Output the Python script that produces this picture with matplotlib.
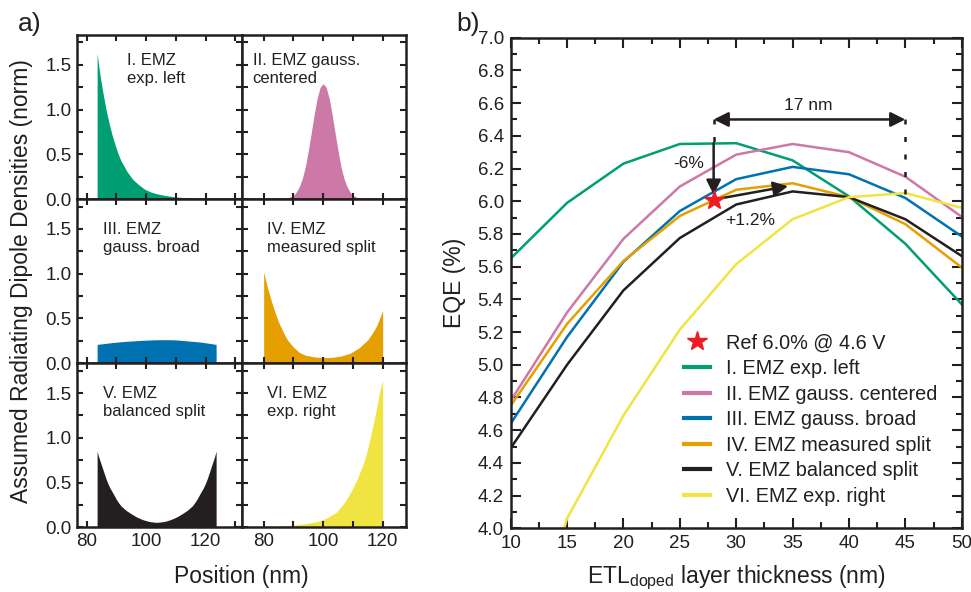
import matplotlib
matplotlib.use("Agg")
import matplotlib.pyplot as plt
from matplotlib.ticker import MultipleLocator, FormatStrFormatter

plt.rcParams['font.family'] = ['Liberation Sans', 'DejaVu Sans']
plt.rcParams['mathtext.default'] = 'regular'

# ---------------- data: panel a) dipole density profiles ----------------
pos_I = [83.5, 84, 84.5, 85, 85.5, 86.5, 87.5, 88.5, 89.5, 90.5, 91.5, 92.5, 93.5,
         95.5, 97.5, 99.5, 101.5, 103.5, 106.5, 109.5, 113.5, 118.5, 123.5]
dens_I = [1.63, 1.50, 1.38, 1.28, 1.18, 1.00, 0.85, 0.72, 0.61, 0.51, 0.43, 0.37, 0.31,
          0.22, 0.16, 0.11, 0.08, 0.06, 0.04, 0.025, 0.015, 0.01, 0.008]

pos_II = [80, 86, 88, 90, 91, 92, 93, 94, 95, 96, 97, 98, 99, 100,
          101, 102, 103, 104, 105, 106, 107, 108, 109, 110, 112, 114, 120]
dens_II = [0.005, 0.006, 0.012, 0.04, 0.08, 0.14, 0.23, 0.36, 0.54, 0.74, 0.95, 1.13, 1.25, 1.29,
           1.25, 1.13, 0.95, 0.74, 0.54, 0.36, 0.23, 0.14, 0.08, 0.04, 0.012, 0.006, 0.005]

pos_III = [83.5, 86, 88.5, 91, 93.5, 96, 98.5, 101, 103.5, 106, 108.5, 111, 113.5, 116, 118.5, 121, 123.5]
dens_III = [0.21, 0.22, 0.23, 0.238, 0.245, 0.25, 0.255, 0.259, 0.262, 0.263, 0.262, 0.258, 0.25,
            0.243, 0.235, 0.223, 0.21]

pos_IV = [80, 80.5, 81, 81.5, 82, 83, 84, 85, 86, 87, 88, 90, 92, 94, 97, 100, 103, 106, 109,
          112, 115, 117, 118, 119, 120]
dens_IV = [1.02, 0.95, 0.88, 0.82, 0.76, 0.65, 0.55, 0.46, 0.39, 0.32, 0.26, 0.18, 0.12, 0.09,
           0.07, 0.062, 0.065, 0.08, 0.11, 0.17, 0.26, 0.36, 0.42, 0.50, 0.59]

pos_V = [83.5, 84, 84.5, 85, 85.5, 86, 86.5, 87.1, 87.8, 88.5, 89, 89.5, 90, 90.7, 91.5, 92.5,
         93.4, 95, 96.8, 98.5, 100.1, 101.5, 103.5,
         105.5, 106.9, 108.5, 110.2, 112, 113.6, 114.5, 115.5, 116.3, 117, 117.5, 118, 118.5,
         119.2, 119.9, 120.5, 121, 121.5, 122, 122.5, 123, 123.5]
dens_V = [0.85, 0.79, 0.74, 0.69, 0.64, 0.59, 0.54, 0.49, 0.44, 0.40, 0.37, 0.34, 0.31, 0.275,
          0.24, 0.21, 0.185, 0.15, 0.115, 0.09, 0.072, 0.062, 0.055,
          0.062, 0.072, 0.09, 0.115, 0.15, 0.185, 0.21, 0.24, 0.275, 0.31, 0.34, 0.37, 0.40,
          0.44, 0.49, 0.54, 0.59, 0.64, 0.69, 0.74, 0.79, 0.85]

pos_VI = [80, 85, 90, 95, 98, 101, 103, 104.5, 106, 107, 108, 109, 110, 111.3, 112.4, 113.5,
          114.7, 115.8, 116.9, 118, 118.5, 119, 119.5, 120]
dens_VI = [0.01, 0.015, 0.025, 0.045, 0.065, 0.10, 0.14, 0.17, 0.23, 0.27, 0.32, 0.38, 0.44, 0.53,
           0.62, 0.71, 0.84, 1.0, 1.16, 1.34, 1.43, 1.52, 1.58, 1.64]

# ---------------- data: panel b) EQE vs thickness ----------------
thickness = [10, 15, 20, 25, 30, 35, 40, 45, 50]
eqe_I = [5.65, 5.99, 6.23, 6.35, 6.355, 6.25, 6.03, 5.74, 5.37]
eqe_II = [4.78, 5.32, 5.77, 6.09, 6.285, 6.35, 6.30, 6.15, 5.905]
eqe_III = [4.64, 5.17, 5.63, 5.94, 6.135, 6.21, 6.165, 6.02, 5.785]
eqe_IV = [4.75, 5.25, 5.635, 5.91, 6.07, 6.11, 6.025, 5.86, 5.595]
eqe_V = [4.49, 5.00, 5.455, 5.775, 5.98, 6.06, 6.025, 5.89, 5.665]
eqe_VI = [2.9, 4.06, 4.69, 5.215, 5.615, 5.89, 6.025, 6.05, 5.96]
ref_x, ref_eqe = 28, 6.01

labels = ["I. EMZ exp. left", "II. EMZ gauss. centered", "III. EMZ gauss. broad",
          "IV. EMZ measured split", "V. EMZ balanced split", "VI. EMZ exp. right"]
panel_titles = ["I. EMZ\nexp. left", "II. EMZ gauss.\ncentered", "III. EMZ\ngauss. broad",
                "IV. EMZ\nmeasured split", "V. EMZ\nbalanced split", "VI. EMZ\nexp. right"]
colors = ["#009e73", "#cc79a7", "#0072b2", "#e69f00", "#231f20", "#f0e442"]
ink = '#231f20'

# ---------------- figure ----------------
fig = plt.figure(figsize=(9.71, 5.92), dpi=100)
W, H = 971.0, 592.0

left0 = 77.3
colw = 164.35
top0 = 35.0
rowh = 164.1
profiles = [(pos_I, dens_I), (pos_II, dens_II), (pos_III, dens_III),
            (pos_IV, dens_IV), (pos_V, dens_V), (pos_VI, dens_VI)]
xlims = [(76.84, 132.08), (72.6, 127.85)]
text_x = [0.305, 0.067, 0.156, 0.153, 0.156, 0.153]
text_y = [0.89, 0.89, 0.86, 0.86, 0.86, 0.86]

for i in range(6):
    r, c = divmod(i, 2)
    x0 = (left0 + c * colw) / W
    y0 = (H - (top0 + (r + 1) * rowh)) / H
    ax = fig.add_axes([x0, y0, colw / W, rowh / H])
    px, dv = profiles[i]
    ax.fill_between(px, 0, dv, color=colors[i], linewidth=0)
    ax.set_xlim(*xlims[c])
    ax.set_ylim(0, 1.833)
    ax.xaxis.set_major_locator(MultipleLocator(20))
    ax.xaxis.set_minor_locator(MultipleLocator(10))
    ax.yaxis.set_major_locator(MultipleLocator(0.5))
    ax.yaxis.set_minor_locator(MultipleLocator(0.25))
    ax.tick_params(which='both', direction='in', top=True, right=True, width=1.5,
                   labelsize=13.5, color=ink, labelcolor=ink)
    ax.tick_params(which='major', length=4.5, pad=4)
    ax.tick_params(which='minor', length=4)
    for s in ax.spines.values():
        s.set_linewidth(1.8)
        s.set_color(ink)
    if c == 1:
        ax.tick_params(labelleft=False)
    else:
        ax.yaxis.set_major_formatter(FormatStrFormatter('%.1f'))
    if r < 2:
        ax.tick_params(labelbottom=False)
    ax.text(text_x[i], text_y[i], panel_titles[i], transform=ax.transAxes, ha='left', va='top',
            fontsize=12, linespacing=1.25, color=ink)

fig.text(22 / W, 1 - 281 / H, "Assumed Radiating Dipole Densities (norm)", rotation=90,
         ha='center', va='center', fontsize=16.5, color=ink)
fig.text((left0 + colw) / W, 1 - 577 / H, "Position (nm)", ha='center', va='center',
         fontsize=16.5, color=ink)
fig.text(30 / W, 1 - 24 / H, "a)", ha='center', va='center', fontsize=19, color=ink)
fig.text(468 / W, 1 - 24 / H, "b)", ha='center', va='center', fontsize=19, color=ink)

# ---------------- panel b ----------------
axb = fig.add_axes([510.7 / W, (H - 528.3) / H, 451 / W, 490.6 / H])
series = [eqe_I, eqe_II, eqe_III, eqe_IV, eqe_V, eqe_VI]
handles = []
for vals, col, lab in zip(series, colors, labels):
    h, = axb.plot(thickness, vals, color=col, lw=1.8, label=lab)
    handles.append(h)

# annotations
axb.plot([28, 28], [6.5, 6.36], color=ink, lw=1.8, ls=(0, (2, 5)))
axb.plot([45, 45], [6.5, 6.03], color=ink, lw=1.8, ls=(0, (2, 5)))
axb.annotate("", xy=(45, 6.5), xytext=(28, 6.5),
             arrowprops=dict(arrowstyle='<|-|>', color=ink, lw=1.8,
                             mutation_scale=22, shrinkA=0, shrinkB=0))
axb.annotate("", xy=(28, 6.04), xytext=(28, 6.355),
             arrowprops=dict(arrowstyle='-|>', color=ink, lw=1.8,
                             mutation_scale=22, shrinkA=0, shrinkB=0))
axb.annotate("", xy=(34.6, 6.092), xytext=(28, 6.01),
             arrowprops=dict(arrowstyle='-|>', color=ink, lw=1.8,
                             mutation_scale=22, shrinkA=0, shrinkB=0))
axb.text(36.4, 6.585, "17 nm", ha='center', va='center', fontsize=12.5, color=ink)
axb.text(25.8, 6.23, "-6%", ha='center', va='center', fontsize=12.5, color=ink)
axb.text(31.2, 5.885, "+1.2%", ha='center', va='center', fontsize=12.5, color=ink)

star, = axb.plot([ref_x], [ref_eqe], ls='none', marker='*', ms=15, color='#ed1c24',
                 label="Ref 6.0% @ 4.6 V", zorder=5)

axb.set_xlim(10, 50)
axb.set_ylim(4.0, 7.0)
axb.xaxis.set_major_locator(MultipleLocator(5))
axb.xaxis.set_minor_locator(MultipleLocator(2.5))
axb.yaxis.set_major_locator(MultipleLocator(0.2))
axb.yaxis.set_minor_locator(MultipleLocator(0.1))
axb.yaxis.set_major_formatter(FormatStrFormatter('%.1f'))
axb.tick_params(which='both', direction='in', top=True, right=True, width=1.5,
                labelsize=13.5, color=ink, labelcolor=ink)
axb.tick_params(which='major', length=7, pad=5)
axb.tick_params(which='minor', length=4)
for s in axb.spines.values():
    s.set_linewidth(1.8)
    s.set_color(ink)
axb.set_xlabel(r"ETL$_{doped}$ layer thickness (nm)", fontsize=16.5, color=ink, labelpad=8)
axb.set_ylabel("EQE (%)", fontsize=16.5, color=ink, labelpad=8)

leg = axb.legend(handles=[star] + handles, loc='lower left', bbox_to_anchor=(0.385, 0.046),
                 frameon=False, fontsize=14.3, handlelength=1.3, handletextpad=0.8,
                 labelspacing=0.33, borderpad=0, borderaxespad=0, markerscale=1.0)
for t in leg.get_texts():
    t.set_color(ink)
for lh in leg.get_lines():
    lh.set_linewidth(3)

fig.savefig("out.png", dpi=100)
